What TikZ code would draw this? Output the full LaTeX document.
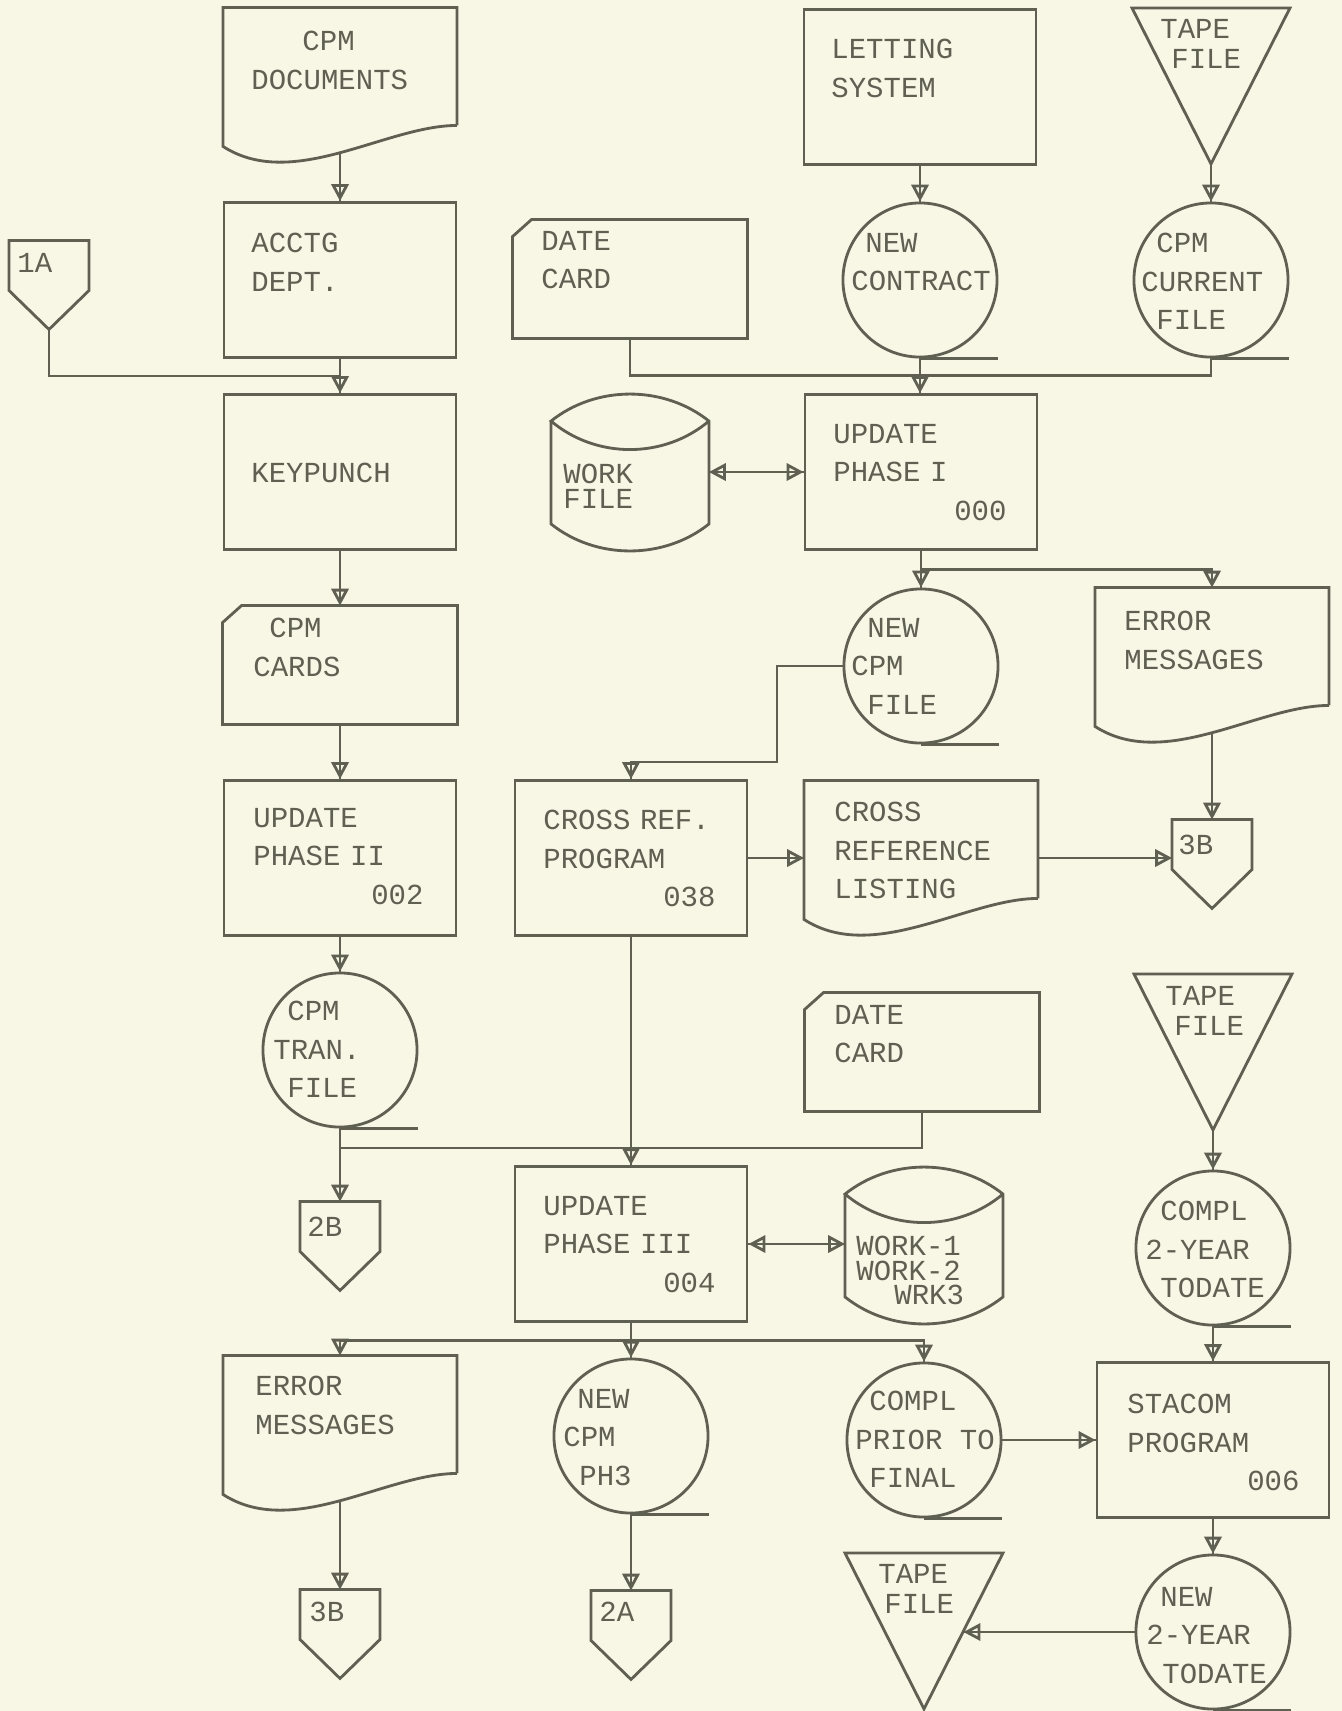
\documentclass[tikz,border=0pt]{standalone}
\usepackage{fontspec}
\setmonofont{Liberation Mono}
\usetikzlibrary{arrows.meta,calc}
\definecolor{ink}{HTML}{5F5F52}
\definecolor{paper}{HTML}{F8F6E5}

\begin{document}
\begin{tikzpicture}[x=0.01cm, y=-0.01cm, color=ink, line width=0.8pt,
    >={Triangle[open,length=4.8pt,width=4.9pt]},
    flow/.style={->, postaction={draw, arrows=-}},
    flowboth/.style={<->, postaction={draw, arrows=-}},
    proc/.style={draw, rectangle, minimum width=2.32cm, minimum height=1.55cm, inner sep=0pt},
    holder/.style={rectangle, inner sep=0pt},
    docbox/.style={holder, minimum width=2.31cm, minimum height=1.36cm},
    cardbox/.style={holder, minimum width=2.32cm, minimum height=1.16cm},
    diskbox/.style={holder, minimum width=1.55cm, minimum height=1.55cm},
    tapebox/.style={holder, minimum width=1.55cm, minimum height=1.53cm},
    offpage/.style={holder, minimum width=0.77cm, minimum height=0.86cm},
    reel/.style={draw, circle, minimum size=1.54cm, inner sep=0pt},
    lbl/.style={anchor=north west, inner sep=0pt, align=left,
                font=\ttfamily\fontsize{8.25}{10.9}\selectfont},
    tight/.style={font=\ttfamily\fontsize{8.25}{6.9}\selectfont},
    tapelbl/.style={font=\ttfamily\fontsize{8.25}{8.4}\selectfont}]

  \useasboundingbox (0,0) rectangle (1342,1711);
  \fill[paper] (0,0) rectangle (1342,1711);

  % --- left column: source documents down to the transaction file ---
  \node[docbox] (docs) at (340,77) {};
  \node[proc] (acctg) at (340,280) {};
  \node[offpage] (off1) at (49,285) {};
  \node[proc] (keyp) at (340,472) {};
  \node[cardbox] (cards) at (340,665) {};
  \node[proc] (upd2) at (340,858) {};
  \node[reel] (tran) at (340,1050) {};
  \node[offpage] (off2b) at (340,1246) {};
  \node[docbox] (err2) at (340,1425) {};
  \node[offpage] (off3l) at (340,1634) {};

  % --- second column: date card, work file, cross reference, phase III ---
  \node[cardbox] (date1) at (630,279) {};
  \node[diskbox] (work) at (630,472) {};
  \node[proc] (xref) at (631,858) {};
  \node[proc] (upd3) at (631,1244) {};
  \node[reel] (ph3) at (631,1436) {};
  \node[offpage] (off2a) at (631,1635) {};

  % --- third column: letting system, phase I, listings ---
  \node[proc] (letting) at (920,87) {};
  \node[reel] (newcon) at (920,280) {};
  \node[proc] (upd1) at (921,472) {};
  \node[reel] (newcpm) at (921,666) {};
  \node[docbox] (xlist) at (921,850) {};
  \node[cardbox] (date2) at (922,1052) {};
  \node[diskbox] (work2) at (924,1245) {};
  \node[reel] (prior) at (924,1440) {};
  \node[tapebox] (tape3) at (924,1631) {};

  % --- right column: tape files and STACOM ---
  \node[tapebox] (tape1) at (1211,86) {};
  \node[reel] (cur) at (1211,280) {};
  \node[docbox] (err1) at (1212,657) {};
  \node[offpage] (off3r) at (1212,864) {};
  \node[tapebox] (tape2) at (1213,1052) {};
  \node[reel] (compl2) at (1213,1248) {};
  \node[proc] (stacom) at (1213,1440) {};
  \node[reel] (new2) at (1213,1632) {};

  % --- outlines of the special symbols ---
  \foreach \n in {docs,err1,xlist,err2}
    \draw ($(\n.south east)+(0,-21)$) -- (\n.north east) -- (\n.north west) -- (\n.south west)
      .. controls ($(\n.south west)+(70,45)$) and ($(\n.south east)+(-71,-21)$) .. ($(\n.south east)+(0,-21)$);
  \foreach \n in {date1,cards,date2}
    \draw ($(\n.north west)+(19,0)$) -- (\n.north east) -- (\n.south east) -- (\n.south west)
      -- ($(\n.north west)+(0,17)$) -- cycle;
  \foreach \n in {work,work2}
    \draw ($(\n.north west)+(0,28)$) -- ($(\n.south west)+(0,-27)$)
      .. controls ($(\n.south west)+(45,9)$) and ($(\n.south east)+(-45,9)$) .. ($(\n.south east)+(0,-27)$)
      -- ($(\n.north east)+(0,28)$)
      .. controls ($(\n.north east)+(-45,-8)$) and ($(\n.north west)+(45,-8)$) .. ($(\n.north west)+(0,28)$)
      .. controls ($(\n.north west)+(45,66)$) and ($(\n.north east)+(-45,66)$) .. ($(\n.north east)+(0,28)$);
  \foreach \n in {tape1,tape2,tape3}
    \draw (\n.north west) -- (\n.north east) -- (\n.south) -- cycle;
  \foreach \n in {off1,off2b,off3r,off3l,off2a}
    \draw (\n.north west) -- (\n.north east) -- ($(\n.north east)+(0,50)$) -- (\n.south)
      -- ($(\n.north west)+(0,50)$) -- cycle;
  \foreach \n in {newcon,cur,newcpm,tran,compl2,ph3,prior,new2}
    \draw (\n.south) -- (\n.south -| \n.east);

  % --- texts ---
  \node[lbl] (docs-t) at (250,30) {\hspace*{0.51cm}CPM\\DOCUMENTS};
  \node[lbl] (acctg-t) at (250,232) {ACCTG\\DEPT.};
  \node[lbl] (off1-t) at (16,252) {1A};
  \node[lbl] (keyp-t) at (250,462) {KEYPUNCH};
  \node[lbl] (cards-t) at (252,617) {\hspace*{0.16cm}CPM\\CARDS};
  \node[lbl, text width=1.70cm] (upd2-t) at (252,807) {UPDATE\\PHASE II\\\hspace*{\fill}002};
  \node[lbl] (tran-t) at (272,1000) {\hspace*{0.14cm}CPM\\TRAN.\\\hspace*{0.14cm}FILE};
  \node[lbl] (off2b-t) at (306,1216) {2B};
  \node[lbl] (err2-t) at (254,1375) {ERROR\\MESSAGES};
  \node[lbl] (off3l-t) at (308,1601) {3B};

  \node[lbl] (date1-t) at (540,230) {DATE\\CARD};
  \node[lbl, tight] (work-t) at (562,463) {WORK\\FILE};
  \node[lbl, text width=1.72cm] (xref-t) at (542,809) {CROSS REF.\\PROGRAM\\\hspace*{\fill}038};
  \node[lbl, text width=1.72cm] (upd3-t) at (542,1195) {UPDATE\\PHASE III\\\hspace*{\fill}004};
  \node[lbl] (ph3-t) at (562,1388) {\hspace*{0.14cm}NEW\\CPM\\\hspace*{0.16cm}PH3};
  \node[lbl] (off2a-t) at (598,1601) {2A};

  \node[lbl] (letting-t) at (830,38) {LETTING\\SYSTEM};
  \node[lbl] (newcon-t) at (850,232) {\hspace*{0.14cm}NEW\\CONTRACT};
  \node[lbl, text width=1.73cm] (upd1-t) at (832,423) {UPDATE\\PHASE I\\\hspace*{\fill}000};
  \node[lbl] (newcpm-t) at (850,617) {\hspace*{0.16cm}NEW\\CPM\\\hspace*{0.16cm}FILE};
  \node[lbl] (xlist-t) at (833,801) {CROSS\\REFERENCE\\LISTING};
  \node[lbl] (date2-t) at (833,1004) {DATE\\CARD};
  \node[lbl, tight] (work2-t) at (855,1235) {WORK-1\\WORK-2\\\hspace*{0.38cm}WRK3};
  \node[lbl] (prior-t) at (854,1390) {\hspace*{0.14cm}COMPL\\PRIOR TO\\\hspace*{0.14cm}FINAL};
  \node[lbl, tapelbl] (tape3-t) at (877,1563) {TAPE\\\hspace*{0.06cm}FILE};

  \node[lbl, tapelbl] (tape1-t) at (1159,18) {TAPE\\\hspace*{0.11cm}FILE};
  \node[lbl] (cur-t) at (1140,232) {\hspace*{0.15cm}CPM\\CURRENT\\\hspace*{0.15cm}FILE};
  \node[lbl] (err1-t) at (1123,610) {ERROR\\MESSAGES};
  \node[lbl] (off3r-t) at (1177,834) {3B};
  \node[lbl, tapelbl] (tape2-t) at (1164,985) {TAPE\\\hspace*{0.09cm}FILE};
  \node[lbl] (compl2-t) at (1144,1200) {\hspace*{0.15cm}COMPL\\2-YEAR\\\hspace*{0.15cm}TODATE};
  \node[lbl, text width=1.72cm] (stacom-t) at (1126,1393) {STACOM\\PROGRAM\\\hspace*{\fill}006};
  \node[lbl] (new2-t) at (1145,1586) {\hspace*{0.14cm}NEW\\2-YEAR\\\hspace*{0.16cm}TODATE};

  % --- junctions and free ends ---
  \coordinate (j1) at ($(acctg.south)!0.5!(keyp.north)$);
  \coordinate (j2) at ($(newcon.south)!0.5!(upd1.north)$);
  \coordinate (j3) at ($(upd1.south)!0.5!(newcpm.north)$);
  \coordinate (j4) at (340,1148);
  \coordinate (j5) at ($(upd3.south)!0.5!(ph3.north)$);
  \coordinate (k1) at (777,762);
  \coordinate (docs-o) at ($(docs.south)+(0,7)$);
  \coordinate (err1-o) at ($(err1.south)+(0,7)$);
  \coordinate (err2-o) at ($(err2.south)+(0,7)$);
  \coordinate (tape3-in) at ($(tape3.north east)!0.5!(tape3.south)$);

  % --- flow lines ---
  \draw[flow] (docs-o) -- (acctg.north);
  \draw[flow] (acctg.south) -- (keyp.north);
  \draw (off1.south) |- (j1);
  \draw[flow] (keyp.south) -- (cards.north);
  \draw[flow] (cards.south) -- (upd2.north);
  \draw[flow] (upd2.south) -- (tran.north);
  \draw[flow] (tran.south) -- (off2b.north);
  \draw (date2.south) |- (j4);
  \draw[flow] (xref.south) -- (upd3.north);

  \draw[flow] (letting.south) -- (letting.south |- newcon.north);
  \draw[flow] (tape1.south) -- (cur.north);
  \draw (date1.south) |- (j2);
  \draw (cur.south) |- (j2);
  \draw[flow] (newcon.south) -- (newcon.south |- upd1.north);
  \draw[flowboth] (work.east) -- (work.east -| upd1.west);
  \draw[flow] (upd1.south) -- (upd1.south |- newcpm.north);
  \draw[flow] (j3) -| (err1.north);
  \draw[flow] (newcpm.west) -| (k1) -| (xref.north);
  \draw[flow] (xref.east) -- (xref.east -| xlist.west);
  \draw[flow] (xref.east -| xlist.east) -- (xref.east -| off3r.west);
  \draw[flow] (err1-o) -- (off3r.north);

  \draw[flow] (tape2.south) -- (tape2.south |- compl2.north);
  \draw[flow] (compl2.south) -- (stacom.north);
  \draw[flow] (prior.east) -- (prior.east -| stacom.west);
  \draw[flow] (stacom.south) -- (new2.north);
  \draw[flow] (new2.west) -- (new2.west -| tape3-in);

  \draw[flowboth] (upd3.east) -- (upd3.east -| work2.west);
  \draw[flow] (upd3.south) -- (ph3.north);
  \draw[flow] (j5) -| (err2.north);
  \draw[flow] (j5) -| (prior.north);
  \draw[flow] (err2-o) -- (off3l.north);
  \draw[flow] (ph3.south) -- (off2a.north);
\end{tikzpicture}
\end{document}
